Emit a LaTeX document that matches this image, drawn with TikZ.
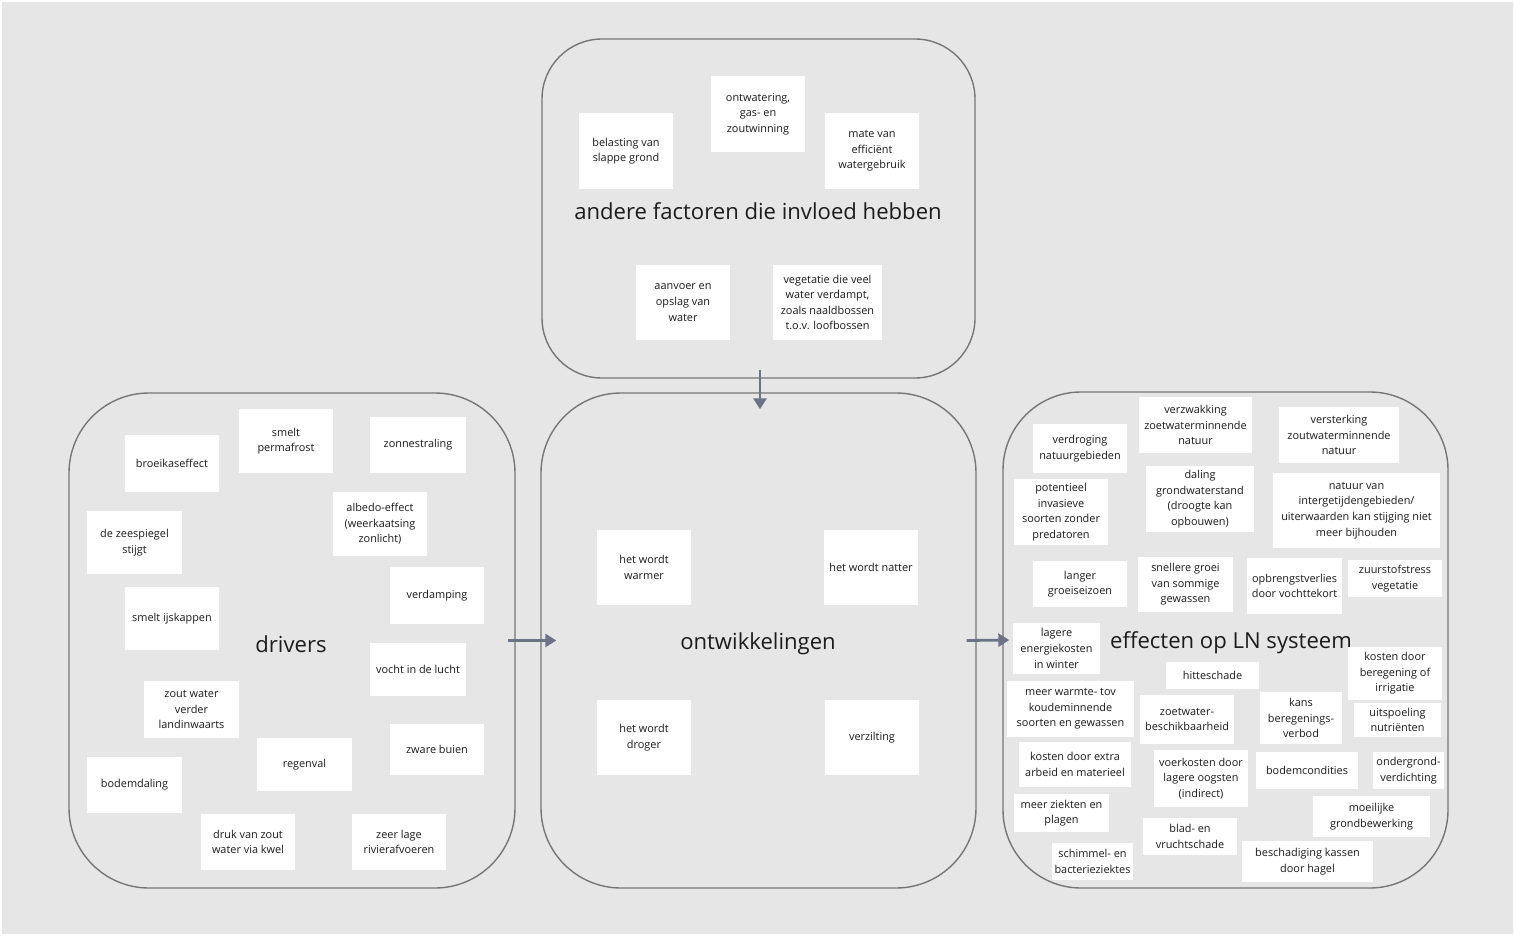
\documentclass[tikz,border=0pt]{standalone}
\usepackage{fontspec}
\setmainfont{Open Sans}
\usetikzlibrary{arrows.meta}

\definecolor{bgcol}{HTML}{E6E6E6}
\definecolor{framecol}{HTML}{767676}
\definecolor{flowcol}{HTML}{6C7387}
\definecolor{inkcol}{HTML}{1C1C1C}

\tikzset{
  group/.style={draw=framecol, line width=1.4pt, inner sep=0pt},
  card/.style={fill=white, inner sep=0pt, align=center, text=inkcol,
    font=\fontsize{10.9}{15.6}\selectfont},
  grouptitle/.style={inner sep=0pt, text=inkcol, font=\fontsize{22.1}{26}\selectfont},
  flow/.style={draw=flowcol, line width=2.8pt,
    -{Triangle[length=11pt,width=13pt]}},
}

% card: name, left, top, right, bottom, text
\newcommand\mkcard[6]{%
  \node[card, minimum width={#4-#2}, minimum height={#5-#3}]
    (#1) at ({(#2+#4)/2},{(#3+#5)/2}) {#6};}
% group frame: name, left, top, right, bottom, corner radius
\newcommand\mkgroup[6]{%
  \node[group, rounded corners=#6pt, minimum width={#4-#2}, minimum height={#5-#3}]
    (#1) at ({(#2+#4)/2},{(#3+#5)/2}) {};}

\begin{document}
\begin{tikzpicture}[x=1pt, y=-1pt]
  % canvas
  \fill[white] (0,0) rectangle (1515,936);
  \fill[bgcol] (2,2) rectangle (1513,934);
  \useasboundingbox (0,0) rectangle (1515,936);

  % group frames
  \mkgroup{top}{542}{39}{975}{378}{60}
  \mkgroup{drv}{69}{393}{515}{888}{80}
  \mkgroup{dev}{541}{393}{976}{888}{80}
  \mkgroup{eff}{1003}{392}{1448}{888}{78}

  % group titles
  \node[grouptitle] (t-top) at (758,211) {andere factoren die invloed hebben};
  \node[grouptitle] (t-drv) at (291,644) {drivers};
  \node[grouptitle] (t-dev) at (758,644) {ontwikkelingen};
  \node[grouptitle] (t-eff) at (1231,643) {effecten op LN systeem};

  % other factors
  \mkcard{f1}{579}{113}{673}{189}{belasting van\\slappe grond}
  \mkcard{f2}{711}{76}{805}{152}{ontwatering,\\gas- en\\zoutwinning}
  \mkcard{f3}{825}{113}{919}{189}{mate van\\efficiënt\\watergebruik}
  \mkcard{f4}{636}{265}{730}{340}{aanvoer en\\opslag van\\water}
  \mkcard{f5}{773}{265}{882}{340}{vegetatie die veel\\water verdampt,\\zoals naaldbossen\\t.o.v. loofbossen}

  % drivers
  \mkcard{d1}{125}{435}{219}{492}{broeikaseffect}
  \mkcard{d2}{239}{409}{333}{473}{smelt\\permafrost}
  \mkcard{d3}{370}{417}{466}{473}{zonnestraling}
  \mkcard{d4}{333}{492}{427}{556}{albedo-effect\\(weerkaatsing\\zonlicht)}
  \mkcard{d5}{87}{511}{182}{574}{de zeespiegel\\stijgt}
  \mkcard{d6}{390}{567}{484}{624}{verdamping}
  \mkcard{d7}{125}{587}{219}{650}{smelt ijskappen}
  \mkcard{d8}{370}{643}{466}{696}{vocht in de lucht}
  \mkcard{d9}{144}{681}{239}{738}{zout water\\verder\\landinwaarts}
  \mkcard{d10}{390}{724}{484}{775}{zware buien}
  \mkcard{d11}{257}{738}{352}{791}{regenval}
  \mkcard{d12}{87}{757}{182}{813}{bodemdaling}
  \mkcard{d13}{201}{814}{295}{870}{druk van zout\\water via kwel}
  \mkcard{d14}{352}{814}{446}{870}{zeer lage\\rivierafvoeren}

  % developments
  \mkcard{o1}{597}{530}{691}{605}{het wordt\\warmer}
  \mkcard{o2}{824}{530}{918}{605}{het wordt natter}
  \mkcard{o3}{597}{700}{691}{775}{het wordt\\droger}
  \mkcard{o4}{825}{700}{919}{775}{verzilting}

  % effects
  \mkcard{e1}{1033}{424}{1127}{473}{verdroging\\natuurgebieden}
  \mkcard{e2}{1139}{397}{1252}{453}{verzwakking\\zoetwaterminnende\\natuur}
  \mkcard{e3}{1279}{407}{1399}{463}{versterking\\zoutwaterminnende\\natuur}
  \mkcard{e4}{1014}{479}{1108}{545}{potentieel\\invasieve\\soorten zonder\\predatoren}
  \mkcard{e5}{1146}{466}{1254}{532}{daling\\grondwaterstand\\(droogte kan\\opbouwen)}
  \mkcard{e6}{1273}{473}{1440}{548}{natuur van\\intergetijdengebieden/\\uiterwaarden kan stijging niet\\meer bijhouden}
  \mkcard{e7}{1033}{561}{1127}{607}{langer\\groeiseizoen}
  \mkcard{e8}{1138}{557}{1233}{612}{snellere groei\\van sommige\\gewassen}
  \mkcard{e9}{1247}{558}{1342}{614}{opbrengstverlies\\door vochttekort}
  \mkcard{e10}{1348}{560}{1442}{597}{zuurstofstress\\vegetatie}
  \mkcard{e11}{1013}{623}{1100}{674}{lagere\\energiekosten\\in winter}
  \mkcard{e12}{1166}{662}{1259}{689}{hitteschade}
  \mkcard{e13}{1348}{647}{1442}{700}{kosten door\\beregening of\\irrigatie}
  \mkcard{e14}{1007}{681}{1134}{737}{meer warmte- tov\\koudeminnende\\soorten en gewassen}
  \mkcard{e15}{1140}{695}{1234}{744}{zoetwater-\\beschikbaarheid}
  \mkcard{e16}{1260}{692}{1342}{744}{kans\\beregenings-\\verbod}
  \mkcard{e17}{1354}{703}{1441}{737}{uitspoeling\\nutriënten}
  \mkcard{e18}{1019}{742}{1131}{787}{kosten door extra\\arbeid en materieel}
  \mkcard{e19}{1154}{750}{1248}{807}{voerkosten door\\lagere oogsten\\(indirect)}
  \mkcard{e20}{1256}{752}{1358}{789}{bodemcondities}
  \mkcard{e21}{1373}{752}{1444}{789}{ondergrond-\\verdichting}
  \mkcard{e22}{1014}{794}{1109}{832}{meer ziekten en\\plagen}
  \mkcard{e23}{1313}{796}{1430}{837}{moeilijke\\grondbewerking}
  \mkcard{e24}{1143}{818}{1237}{855}{blad- en\\vruchtschade}
  \mkcard{e25}{1052}{843}{1133}{880}{schimmel- en\\bacterieziektes}
  \mkcard{e26}{1242}{841}{1373}{882}{beschadiging kassen\\door hagel}

  % flow between the groups
  \draw[flow] ([xshift=1.5pt,yshift=9pt]top.south) -- ([xshift=1.5pt,yshift=-17pt]dev.north);
  \draw[flow] ([xshift=-8pt]drv.east) -- ([xshift=16pt]dev.west);
  \draw[flow] ([xshift=-10pt]dev.east) -- ([xshift=7pt]eff.west);
\end{tikzpicture}
\end{document}
